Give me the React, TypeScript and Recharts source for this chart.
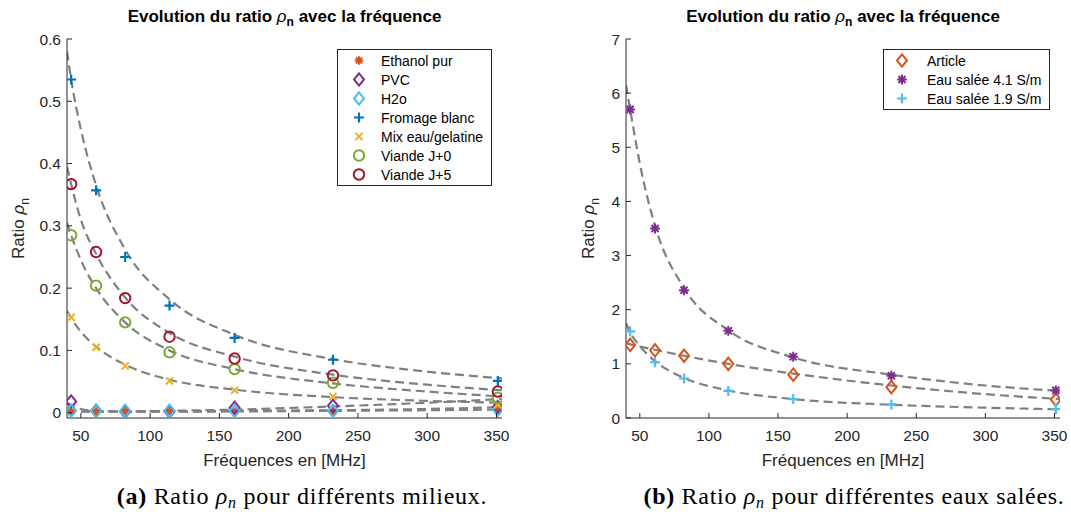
import React from 'react';
import { ComposedChart, Scatter, Line, XAxis, YAxis, Legend } from 'recharts';

// fréquences de mesure (MHz)
const freqs = [43, 61, 82, 114, 161, 232, 351];
// abscisses des courbes d'ajustement
const fitFreqs = [40, 43, 50, 61, 82, 114, 161, 232, 300, 354];
const xTicks = [50, 100, 150, 200, 250, 300, 350];

// (a) différents milieux
const ethanol = [0.002, 0.002, 0.002, 0.002, 0.002, 0.002, 0.004];
const pvc = [0.018, 0.003, 0.002, 0.002, 0.008, 0.011, 0.009];
const h2o = [0.003, 0.003, 0.003, 0.003, 0.003, 0.003, 0.005];
const fromage = [0.535, 0.357, 0.25, 0.172, 0.12, 0.085, 0.051];
const mix = [0.153, 0.105, 0.075, 0.051, 0.036, 0.026, 0.013];
const viandeJ0 = [0.285, 0.204, 0.145, 0.097, 0.07, 0.048, 0.024];
const viandeJ5 = [0.367, 0.258, 0.184, 0.122, 0.087, 0.06, 0.034];

const fromageFit = [0.58, 0.535, 0.455, 0.365, 0.262, 0.182, 0.125, 0.086, 0.066, 0.055];
const viandeJ5Fit = [0.395, 0.367, 0.31, 0.255, 0.185, 0.128, 0.09, 0.061, 0.045, 0.036];
const viandeJ0Fit = [0.305, 0.285, 0.245, 0.2, 0.145, 0.1, 0.07, 0.047, 0.034, 0.026];
const mixFit = [0.163, 0.152, 0.13, 0.106, 0.077, 0.053, 0.037, 0.025, 0.019, 0.016];
const pvcFit = [0.016, 0.012, 0.006, 0.003, 0.002, 0.003, 0.005, 0.01, 0.016, 0.022];
const h2oFit = [0.002, 0.002, 0.002, 0.002, 0.002, 0.002, 0.003, 0.004, 0.006, 0.009];
const ethanolFit = [0.0015, 0.0015, 0.0015, 0.0015, 0.0015, 0.0015, 0.002, 0.003, 0.004, 0.005];
const yTicksA = [0, 0.1, 0.2, 0.3, 0.4, 0.5, 0.6];

// (b) eaux salées
const article = [1.35, 1.25, 1.15, 1.0, 0.8, 0.57, 0.34];
const eau41 = [5.7, 3.5, 2.36, 1.61, 1.13, 0.78, 0.51];
const eau19 = [1.6, 1.03, 0.73, 0.5, 0.35, 0.25, 0.165];
const articleFit = [1.39, 1.36, 1.32, 1.26, 1.15, 1.0, 0.82, 0.6, 0.44, 0.35];
const eau41Fit = [6.15, 5.7, 4.7, 3.55, 2.4, 1.62, 1.12, 0.8, 0.6, 0.5];
const eau19Fit = [1.75, 1.58, 1.33, 1.05, 0.74, 0.51, 0.35, 0.245, 0.19, 0.16];
const yTicksB = [0, 1, 2, 3, 4, 5, 6, 7];

const FONT = '"Liberation Sans", Arial, Helvetica, sans-serif';
const SERIF = '"Liberation Serif", "Times New Roman", serif';
const AX = '#262626';
const FIT = '#808080';
const TL = 5;

const pts = (ys: number[], xs: number[] = freqs) => ys.map((y, i) => ({ x: xs[i], y }));

type Kind = 'star' | 'diamond' | 'plus' | 'x' | 'circle';

function Marker({ kind, cx, cy, color, s = 1 }: { kind: Kind; cx: number; cy: number; color: string; s?: number }) {
  if (kind === 'plus') {
    const a = 5 * s;
    return <path d={`M${cx - a},${cy}H${cx + a}M${cx},${cy - a}V${cy + a}`} stroke={color} strokeWidth={2.2} fill="none" />;
  }
  if (kind === 'x') {
    const a = 3.6 * s;
    return <path d={`M${cx - a},${cy - a}L${cx + a},${cy + a}M${cx + a},${cy - a}L${cx - a},${cy + a}`} stroke={color} strokeWidth={2} fill="none" />;
  }
  if (kind === 'circle') {
    return <circle cx={cx} cy={cy} r={5.2 * s} stroke={color} strokeWidth={2} fill="none" />;
  }
  if (kind === 'diamond') {
    const w = 5 * s, h = 6.2 * s;
    return <path d={`M${cx},${cy - h}L${cx + w},${cy}L${cx},${cy + h}L${cx - w},${cy}Z`} stroke={color} strokeWidth={2} fill="none" />;
  }
  const a = 4.3 * s, b = a * 0.72;
  return (
    <g>
      <path
        d={`M${cx - a},${cy}H${cx + a}M${cx},${cy - a}V${cy + a}M${cx - b},${cy - b}L${cx + b},${cy + b}M${cx + b},${cy - b}L${cx - b},${cy + b}`}
        stroke={color}
        strokeWidth={2}
        fill="none"
      />
      <circle cx={cx} cy={cy} r={2 * s} fill={color} />
    </g>
  );
}

interface Serie {
  name: string;
  values: number[];
  kind: Kind;
  color: string;
  size?: number;
}

const seriesA: Serie[] = [
  { name: 'Ethanol pur', values: ethanol, kind: 'star', color: '#D95319' },
  { name: 'PVC', values: pvc, kind: 'diamond', color: '#7E2F8E' },
  { name: 'H2o', values: h2o, kind: 'diamond', color: '#4DBEEE' },
  { name: 'Fromage blanc', values: fromage, kind: 'plus', color: '#0072BD' },
  { name: 'Mix eau/gelatine', values: mix, kind: 'x', color: '#EDB120' },
  { name: 'Viande J+0', values: viandeJ0, kind: 'circle', color: '#77AC30' },
  { name: 'Viande J+5', values: viandeJ5, kind: 'circle', color: '#A2142F' },
];
const fitsA = [fromageFit, viandeJ5Fit, viandeJ0Fit, mixFit, pvcFit, h2oFit, ethanolFit];

const seriesB: Serie[] = [
  { name: 'Article', values: article, kind: 'diamond', color: '#D95319' },
  { name: 'Eau salée 4.1 S/m', values: eau41, kind: 'star', color: '#7E2F8E', size: 1.15 },
  { name: 'Eau salée 1.9 S/m', values: eau19, kind: 'plus', color: '#4DBEEE' },
];
const fitsB = [eau41Fit, articleFit, eau19Fit];

const fmtA = (v: number) => (v === 0 ? '0' : v.toFixed(1));
const fmtB = (v: number) => String(v);

const BottomTick = (p: any) => (
  <g>
    <line x1={p.x} y1={p.y} x2={p.x} y2={p.y - TL} stroke={AX} />
    <text x={p.x} y={p.y + 17} textAnchor="middle" dominantBaseline="central" fontSize={15.5} fill={AX} fontFamily={FONT}>
      {p.payload.value}
    </text>
  </g>
);
const TopTick = (p: any) => <line x1={p.x} y1={p.y} x2={p.x} y2={p.y + TL} stroke={AX} />;
const RightTick = (p: any) => <line x1={p.x} y1={p.y} x2={p.x - TL} y2={p.y} stroke={AX} />;
const leftTick = (fmt: (v: number) => string) => (p: any) => (
  <g>
    <line x1={p.x} y1={p.y} x2={p.x + TL} y2={p.y} stroke={AX} />
    <text x={p.x - 6} y={p.y} textAnchor="end" dominantBaseline="central" fontSize={15.5} fill={AX} fontFamily={FONT}>
      {fmt(p.payload.value)}
    </text>
  </g>
);

const xLabel = (p: any) => {
  const { x, y, width } = p.viewBox;
  return (
    <text x={x + width / 2} y={y + 42} textAnchor="middle" dominantBaseline="central" fontSize={17} fill={AX} fontFamily={FONT}>
      Fréquences en [MHz]
    </text>
  );
};
const yLabel = (dx: number) => (p: any) => {
  const { x, y, height } = p.viewBox;
  const cx = x + dx;
  const cy = y + height / 2;
  return (
    <text x={cx} y={cy} transform={`rotate(-90 ${cx} ${cy})`} textAnchor="middle" fontSize={17} fill={AX} fontFamily={FONT} dy={6}>
      {'Ratio '}
      <tspan fontStyle="italic">ρ</tspan>
      <tspan dy={5} fontSize={12}>n</tspan>
    </text>
  );
};

const LegendBox = ({ items, w, h, mx, tx }: { items: Serie[]; w: number; h: number; mx: number; tx: number }) => (
  <svg width={w} height={h} style={{ display: 'block' }}>
    <rect x={0.5} y={0.5} width={w - 1} height={h - 1} fill="#fff" stroke={AX} strokeWidth={1} />
    {items.map((it, i) => {
      const cy = 11.5 + i * 19;
      return (
        <g key={it.name}>
          <Marker kind={it.kind} cx={mx} cy={cy} color={it.color} s={it.size} />
          <text x={tx} y={cy} dominantBaseline="central" fontSize={14} fill="#000" fontFamily={FONT}>
            {it.name}
          </text>
        </g>
      );
    })}
  </svg>
);

interface PanelProps {
  width: number;
  right: number;
  series: Serie[];
  fits: number[][];
  yDomain: [number, number];
  yTicks: number[];
  fmt: (v: number) => string;
  ylabelDx: number;
  legend: { left: number; top: number; w: number; h: number; mx: number; tx: number };
}

const Panel = ({ width, right, series, fits, yDomain, yTicks, fmt, ylabelDx, legend }: PanelProps) => (
  <ComposedChart width={width} height={470} margin={{ top: 39, right, bottom: 0, left: 7 }}>
    <XAxis
      dataKey="x"
      type="number"
      domain={[40, 354]}
      ticks={xTicks}
      interval={0}
      allowDataOverflow
      height={52}
      tickSize={0}
      tickMargin={0}
      tick={BottomTick}
      axisLine={{ stroke: AX }}
      label={xLabel}
    />
    <XAxis
      xAxisId="top"
      orientation="top"
      type="number"
      domain={[40, 354]}
      ticks={xTicks}
      interval={0}
      allowDataOverflow
      height={0}
      tickSize={0}
      tickMargin={0}
      tick={TopTick}
      axisLine={{ stroke: AX }}
    />
    <YAxis
      dataKey="y"
      type="number"
      domain={yDomain}
      ticks={yTicks}
      interval={0}
      allowDataOverflow
      width={60}
      tickSize={0}
      tickMargin={0}
      tick={leftTick(fmt)}
      axisLine={{ stroke: AX }}
      label={yLabel(ylabelDx)}
    />
    <YAxis
      yAxisId="right"
      orientation="right"
      type="number"
      domain={yDomain}
      ticks={yTicks}
      interval={0}
      allowDataOverflow
      width={0}
      tickSize={0}
      tickMargin={0}
      tick={RightTick}
      axisLine={{ stroke: AX }}
    />
    {fits.map((f, i) => (
      <Line
        key={'fit' + i}
        data={pts(f, fitFreqs)}
        dataKey="y"
        type="monotone"
        stroke={FIT}
        strokeWidth={2.2}
        strokeDasharray="9 5"
        dot={false}
        activeDot={false}
        legendType="none"
        isAnimationActive={false}
      />
    ))}
    {series.map((s) => (
      <Scatter
        key={s.name}
        name={s.name}
        data={pts(s.values)}
        isAnimationActive={false}
        shape={(p: any) => <Marker kind={s.kind} cx={p.cx} cy={p.cy} color={s.color} s={s.size} />}
      />
    ))}
    <Legend
      layout="vertical"
      align="center"
      verticalAlign="middle"
      wrapperStyle={{ position: 'absolute', left: legend.left, top: legend.top, width: legend.w, height: legend.h }}
      content={() => <LegendBox items={series} w={legend.w} h={legend.h} mx={legend.mx} tx={legend.tx} />}
    />
  </ComposedChart>
);

const Title = ({ cx }: { cx: number }) => (
  <div
    style={{
      position: 'absolute',
      left: cx,
      top: 6,
      transform: 'translateX(-50%)',
      whiteSpace: 'nowrap',
      fontFamily: FONT,
      fontWeight: 'bold',
      fontSize: 17,
      lineHeight: '22px',
      color: '#000',
    }}
  >
    Evolution du ratio <i style={{ fontWeight: 'normal' }}>ρ</i>
    <sub style={{ fontSize: 12, verticalAlign: '-4px', lineHeight: 0 }}>n</sub> avec la fréquence
  </div>
);

const Caption = ({ cx, tag, text }: { cx: number; tag: string; text: string }) => (
  <div
    style={{
      position: 'absolute',
      left: cx,
      top: 482,
      transform: 'translateX(-50%)',
      whiteSpace: 'nowrap',
      fontFamily: SERIF,
      fontSize: 24,
      letterSpacing: '0.7px',
      lineHeight: '28px',
      color: '#000',
    }}
  >
    <b>{tag}</b> Ratio <i>ρ</i>
    <sub style={{ fontSize: 16, verticalAlign: '-4px', lineHeight: 0 }}>
      <i>n</i>
    </sub>{' '}
    {text}
  </div>
);

export default function App() {
  return (
    <div style={{ position: 'absolute', left: 0, top: 0, width: 1071, height: 518, background: '#fff', overflow: 'hidden', fontFamily: FONT }}>
      <div style={{ position: 'absolute', left: 0, top: 0 }}>
        <Panel
          width={540}
          right={38}
          series={seriesA}
          fits={fitsA}
          yDomain={[-0.0085, 0.6]}
          yTicks={yTicksA}
          fmt={fmtA}
          ylabelDx={11}
          legend={{ left: 337, top: 49, w: 155, h: 137, mx: 22, tx: 44 }}
        />
      </div>
      <div style={{ position: 'absolute', left: 559, top: 0 }}>
        <Panel
          width={512}
          right={11}
          series={seriesB}
          fits={fitsB}
          yDomain={[0, 7]}
          yTicks={yTicksB}
          fmt={fmtB}
          ylabelDx={22}
          legend={{ left: 324, top: 49, w: 167, h: 61, mx: 19, tx: 44 }}
        />
      </div>
      <Title cx={284.5} />
      <Title cx={843} />
      <Caption cx={302} tag="(a)" text="pour différents milieux." />
      <Caption cx={854} tag="(b)" text="pour différentes eaux salées." />
    </div>
  );
}
